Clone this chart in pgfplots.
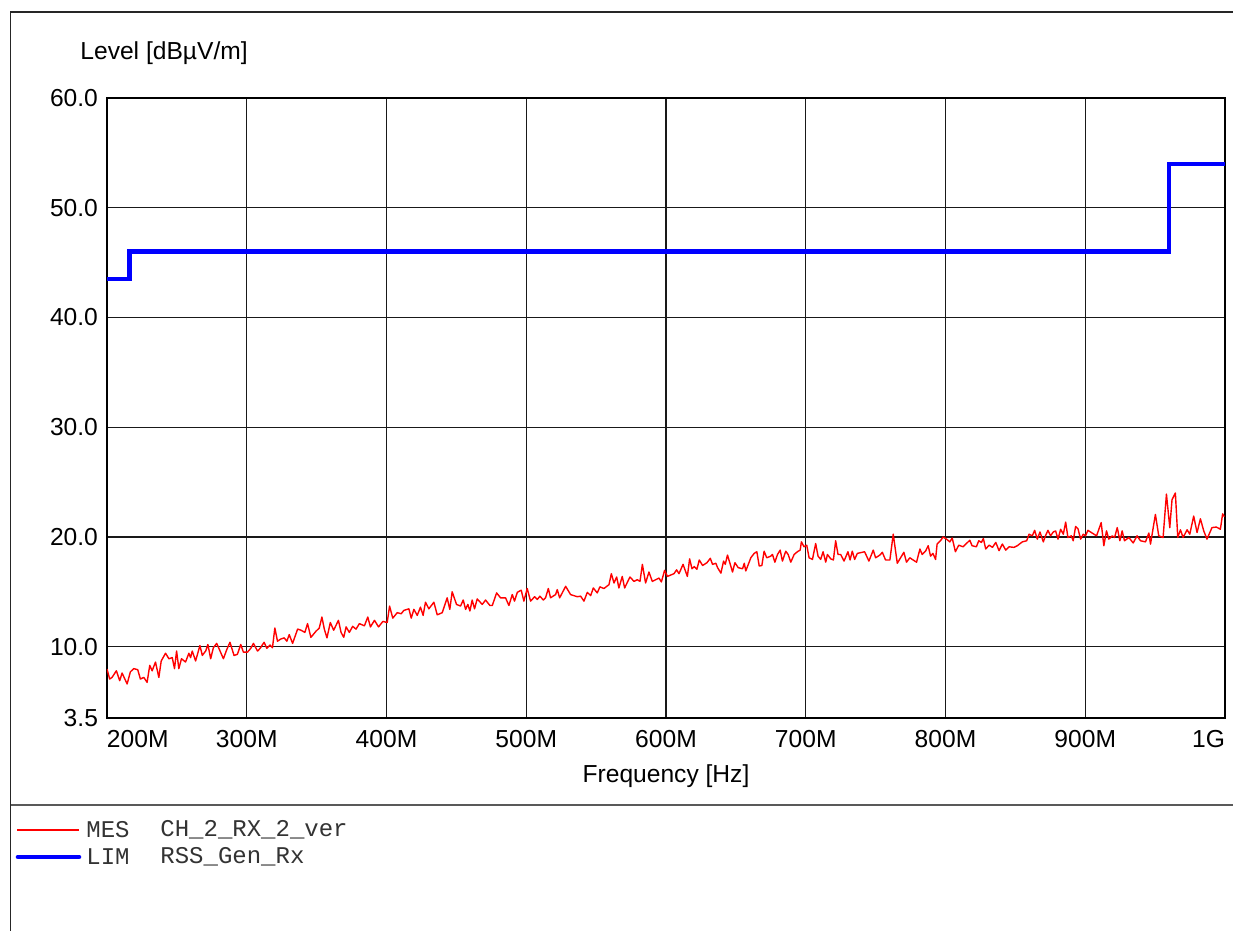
\documentclass[border=0pt]{standalone}
\usepackage{pgfplots}
\pgfplotsset{compat=1.18}
\usepackage{fontspec}
\setmainfont{Liberation Sans}
\newfontfamily\monofont{Liberation Mono}
\begin{document}
\begin{tikzpicture}[x=0.5pt,y=0.5pt]
\path[use as bounding box] (0,0) rectangle (1233,931);
\draw[line width=0.6pt, black!85] (1233,919) -- (10.5,919) -- (10.5,0);
\draw[line width=0.6pt, black!65] (10.5,126) -- (1233,126);
\node[anchor=west, inner sep=0pt, font=\fontsize{12.3}{14}\selectfont] at (80,878) {Level [dBµV/m]};
\node[anchor=center, inner sep=0pt, font=\fontsize{12.3}{14}\selectfont] at (666,155) {Frequency [Hz]};
\begin{axis}[
  at={(53.5pt,106.5pt)}, anchor=south west, scale only axis,
  width=559pt, height=310pt,
  xmin=200, xmax=1000, ymin=3.5, ymax=60,
  xtick={200,300,400,500,600,700,800,900,1000},
  xticklabels={\makebox[0pt][l]{200M},300M,400M,500M,600M,700M,800M,900M,\makebox[0pt][r]{1G}},
  ytick={3.5,10,20,30,40,50,60},
  yticklabels={3.5,10.0,20.0,30.0,40.0,50.0,60.0},
  /pgf/number format/assume math mode=true,
  ticklabel style={font=\fontsize{12.3}{14}\selectfont},
  xticklabel style={yshift=-2.5pt},
  yticklabel style={xshift=-1pt},
  major tick length=0pt,
  grid=major,
  major grid style={black!90, line width=0.65pt},
  axis line style={black, line width=0.8pt},
  clip=true,
]
\addplot[red, line width=0.7pt, line join=round] coordinates {
(200.0,7.96)(201.9,7.05)(203.6,7.2)(206.7,7.8)(209.1,6.9)(210.8,7.6)(214.4,6.6)(216.7,7.7)(219.1,8.0)(222.0,7.9)
(223.9,7.05)(226.3,7.2)(228.7,6.75)(230.6,8.3)(232.3,7.8)(234.7,8.6)(237.1,7.2)(238.8,8.7)(241.9,9.4)(244.3,8.9)
(246.7,9.0)(248.3,8.0)(249.8,9.6)(251.4,8.0)(253.3,8.9)(256.2,8.6)(258.6,9.4)(259.8,9.0)(261.0,9.6)(263.4,8.7)
(266.5,10.1)(268.2,9.2)(270.6,9.6)(272.2,10.2)(274.2,8.9)(276.1,9.9)(278.5,10.3)(280.9,9.6)(283.3,8.9)(285.6,9.7)
(288.0,10.4)(290.9,9.2)(293.3,9.3)(295.7,10.2)(297.6,9.5)(300.5,9.5)(302.9,9.85)(304.8,10.3)(307.7,9.6)(309.6,9.85)
(312.4,10.4)(314.4,9.85)(316.7,10.15)(318.4,9.9)(320.1,11.7)(322.0,10.5)(324.4,10.7)(326.8,10.8)(328.7,10.5)(330.4,11.1)
(332.8,10.3)(336.4,11.6)(338.8,11.5)(341.6,11.3)(343.5,12.1)(345.9,10.85)(349.5,11.4)(351.9,11.7)(353.8,12.7)(355.5,11.6)
(357.4,10.8)(359.8,12.2)(362.2,11.5)(365.6,12.4)(367.5,11.3)(369.4,10.85)(371.1,11.8)(373.4,11.3)(375.8,11.85)(378.2,11.6)
(380.6,12.1)(384.2,11.9)(386.6,12.7)(388.5,11.8)(391.4,12.4)(394.3,11.8)(397.4,12.3)(400.5,12.2)(402.2,13.7)(404.5,12.6)
(407.7,13.1)(410.5,13.0)
(412.4,13.3)(416.0,13.45)(417.7,12.6)(419.6,13.4)(422.0,12.85)(424.3,13.6)(426.2,12.85)(427.9,14.05)(430.3,13.45)(433.9,14.05)
(436.3,12.9)(439.9,13.1)(443.4,14.45)(445.3,13.4)(447.0,15.0)(450.1,13.85)(453.0,13.7)(454.9,14.25)(456.6,13.4)(458.2,13.85)
(459.7,13.25)(461.3,14.25)(463.0,13.45)(464.9,14.35)(468.5,13.85)(470.9,14.25)(474.0,13.75)(475.7,13.75)(478.8,14.9)(481.6,14.45)
(485.2,14.45)(487.6,13.75)(490.0,14.75)(491.6,14.15)(493.6,14.95)(496.4,15.15)(498.3,14.15)(500.7,15.3)(503.1,14.15)(506.0,14.55)
(507.9,14.3)(509.8,14.6)(512.2,14.25)(513.8,14.45)(515.8,15.3)(517.4,14.45)(521.0,14.75)(522.2,15.2)(523.9,14.45)(528.2,15.5)
(531.7,14.75)(536.5,14.55)(538.9,14.6)(541.3,14.15)(543.7,14.95)(546.1,14.65)(548.0,15.35)(550.8,14.9)(552.7,15.45)(555.6,15.3)
(559.2,15.65)(560.9,16.65)(562.8,15.8)(564.7,16.35)(566.3,15.35)(568.7,16.4)(570.4,15.35)(574.2,16.35)(577.1,15.95)(579.5,16.1)
(581.4,15.95)(583.1,17.5)(585.4,15.8)(587.8,16.8)(590.2,15.95)(592.6,16.1)(595.0,16.25)(596.7,15.9)(599.0,16.95)(601.0,16.4)
(605.7,16.65)(607.6,17.0)(609.3,16.65)(612.2,17.5)(615.3,16.4)(616.9,18.0)
(618.6,17.1)(620.2,17.3)(622.1,17.05)(623.8,17.9)(626.2,17.4)(629.3,17.65)(631.7,18.05)(633.3,17.5)(635.7,17.6)(636.9,17.2)
(639.3,16.7)(641.2,17.8)(642.4,17.5)(644.0,18.35)(646.0,17.5)(647.6,16.8)(649.3,17.65)(651.7,17.2)(654.8,17.1)(656.0,17.6)
(657.1,16.9)(660.7,18.1)(663.1,18.5)(665.0,18.65)(666.7,17.35)(668.6,17.4)(670.2,18.7)(672.1,18.1)(675.0,18.25)(676.2,18.4)
(677.9,17.7)(679.8,18.4)(681.7,18.8)(683.3,17.8)(685.7,18.7)(687.4,18.4)(689.3,17.7)(691.7,18.4)(694.0,18.65)(696.0,18.8)
(696.9,19.55)(698.8,19.1)(700.7,19.25)(702.4,18.1)(704.8,17.95)(707.1,19.4)(708.8,18.25)(710.7,17.95)(712.4,18.65)(714.3,17.7)
(715.5,18.4)(717.9,18.0)(719.8,17.9)(721.4,19.65)(723.1,18.4)(725.0,18.4)(727.4,17.8)(730.2,18.65)(731.7,17.9)(733.3,18.7)
(735.0,17.95)(736.9,18.5)(740.5,18.6)(742.1,18.65)(745.2,17.8)(748.3,18.8)(750.0,18.1)(753.1,18.35)(754.8,18.6)(757.1,17.9)
(760.2,17.9)(762.6,20.25)(765.5,17.6)(770.2,18.6)(772.1,17.7)(774.5,18.1)(776.2,17.95)(779.3,17.7)(781.7,18.9)(783.3,18.4)
(785.7,18.7)(787.6,19.2)(789.3,18.25)(791.0,18.5)(792.9,17.95)(794.0,19.35)(796.4,19.65)(798.3,20.0)(800.7,19.8)(803.1,19.55)
(804.8,19.9)(807.1,18.65)(809.5,19.25)(812.6,19.1)(815.0,19.4)(817.4,19.7)(819.0,19.2)(822.1,19.1)(823.8,19.65)
(825.7,19.5)(827.1,19.85)(828.8,18.9)(831.2,19.25)(833.6,19.05)(836.0,19.5)(838.3,18.75)(840.7,19.35)(843.1,18.8)(845.5,19.1)
(849.0,19.05)(851.4,19.2)(855.0,19.55)(858.1,19.65)(859.8,20.25)(862.1,20.1)(863.8,20.6)(865.7,19.8)(867.6,20.45)(870.0,19.55)
(871.7,20.15)(873.3,20.6)(875.2,20.1)(877.1,20.45)(878.8,20.55)(880.5,19.8)(882.4,20.7)(884.3,20.25)(886.0,21.35)(887.6,19.95)
(890.0,20.1)(891.4,19.65)(893.1,20.95)(894.8,20.75)(896.7,19.8)(898.6,20.25)(900.2,20.1)(901.9,20.6)(905.0,20.35)(908.1,20.1)
(911.4,21.3)(913.3,19.2)(915.2,20.55)(916.9,19.8)(919.3,20.1)(921.0,19.95)(922.9,20.85)(924.8,19.65)(926.4,20.55)(928.1,19.65)
(931.2,19.95)(934.3,19.45)(937.1,20.1)(939.5,19.65)(943.1,19.55)(945.5,20.35)(946.7,19.35)(950.2,22.05)(952.6,20.1)(955.7,19.95)
(958.1,23.9)(960.5,20.85)(962.1,23.4)(964.5,24.0)(966.2,19.95)(968.1,20.65)(970.0,19.95)(972.9,20.65)(974.8,20.25)(977.6,21.9)
(980.0,20.4)(982.4,21.65)(984.8,20.55)(987.1,19.8)(990.7,20.85)(993.8,20.9)(996.7,20.7)(998.3,22.1)(999.5,21.85)
};
\addplot[blue, line width=2.3pt, const plot] coordinates {(200,43.5)(216,46)(960,54)(1000,54)};
\end{axis}
\draw[red, line width=0.7pt] (17,101) -- (79,101);
\draw[blue, line width=2.3pt, line cap=round] (18,74) -- (79,74);
\begin{scope}[every node/.style={anchor=west, inner sep=0pt, font=\monofont\fontsize{12}{14}\selectfont, text=black!80}]
\node at (86,101) {MES};
\node at (160,101) {CH\_2\_RX\_2\_ver};
\node at (86,74) {LIM};
\node at (160,74) {RSS\_Gen\_Rx};
\end{scope}
\end{tikzpicture}
\end{document}
